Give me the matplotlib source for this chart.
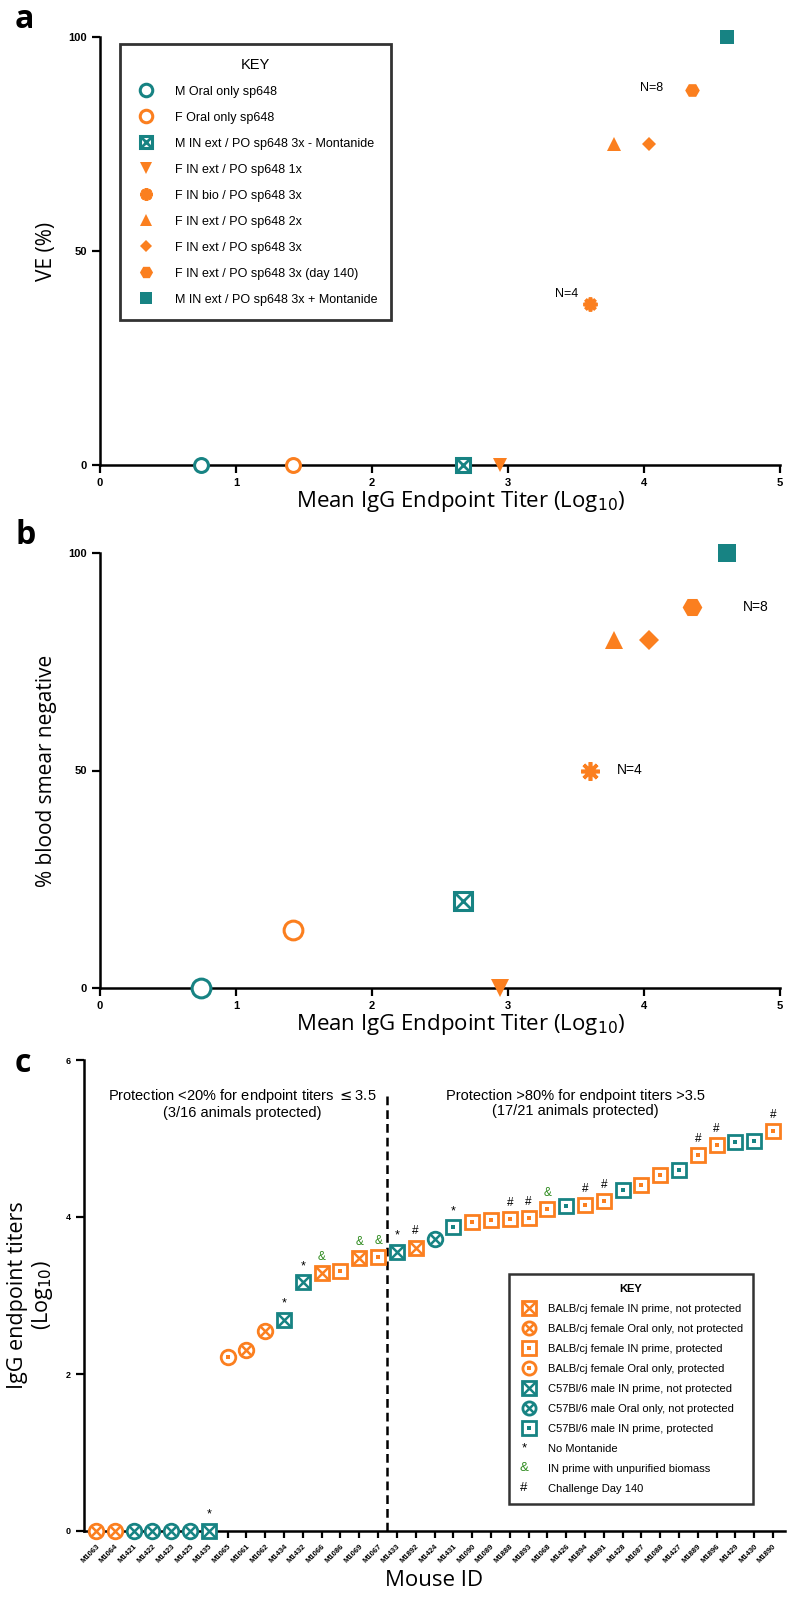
import matplotlib
matplotlib.use('Agg')
import matplotlib.pyplot as plt
from matplotlib.lines import Line2D
from matplotlib.legend_handler import HandlerBase
from matplotlib.text import Text

TEAL = '#178383'
ORANGE = '#fb7f1f'
GREEN = '#2e8b1e'

# ---- panels a / b : group means ----
groups = ['M Oral only sp648', 'F Oral only sp648',
          'M IN ext / PO sp648 3x - Montanide', 'F IN ext / PO sp648 1x',
          'F IN bio / PO sp648 3x', 'F IN ext / PO sp648 2x',
          'F IN ext / PO sp648 3x', 'F IN ext / PO sp648 3x (day 140)',
          'M IN ext / PO sp648 3x + Montanide']
mean_titer = [0.74, 1.42, 2.67, 2.94, 3.60, 3.78, 4.04, 4.35, 4.61]
ve_pct = [0, 0, 0, 0, 37.5, 75, 75, 87.5, 100]
smear_neg_pct = [0, 13.3, 20, 0, 50, 80, 80, 87.5, 100]

# ---- panel c : individual mice ----
mouse_ids = ['M1063', 'M1064', 'M1421', 'M1422', 'M1423', 'M1425', 'M1435',
             'M1065', 'M1061', 'M1062', 'M1434', 'M1432', 'M1066', 'M1086',
             'M1069', 'M1067', 'M1433', 'M1892', 'M1424', 'M1431', 'M1090',
             'M1089', 'M1888', 'M1893', 'M1068', 'M1426', 'M1894', 'M1891',
             'M1428', 'M1087', 'M1088', 'M1427', 'M1889', 'M1896', 'M1429',
             'M1430', 'M1890']
titers = [0, 0, 0, 0, 0, 0, 0,
          2.22, 2.31, 2.55, 2.69, 3.17, 3.29, 3.31,
          3.48, 3.49, 3.56, 3.61, 3.72, 3.87, 3.93,
          3.96, 3.97, 3.99, 4.10, 4.14, 4.15, 4.20,
          4.34, 4.41, 4.54, 4.60, 4.79, 4.92, 4.96,
          4.97, 5.09]
mouse_group = ['F Oral np', 'F Oral np', 'M Oral np', 'M Oral np', 'M Oral np', 'M Oral np', 'M IN np',
               'F Oral p', 'F Oral np', 'F Oral np', 'M IN np', 'M IN np', 'F IN np', 'F IN p',
               'F IN np', 'F IN p', 'M IN np', 'F IN np', 'M Oral np', 'M IN p', 'F IN p',
               'F IN p', 'F IN p', 'F IN p', 'F IN p', 'M IN p', 'F IN p', 'F IN p',
               'M IN p', 'F IN p', 'F IN p', 'M IN p', 'F IN p', 'F IN p', 'M IN p',
               'M IN p', 'F IN p']
notes = ['', '', '', '', '', '', '*',
         '', '', '', '*', '*', '&', '',
         '&', '&', '*', '#', '', '*', '',
         '', '#', '#', '&', '', '#', '#',
         '', '', '', '', '#', '#', '', '', '#']

c_key = [('F IN np', 'BALB/cj female IN prime, not protected'),
         ('F Oral np', 'BALB/cj female Oral only, not protected'),
         ('F IN p', 'BALB/cj female IN prime, protected'),
         ('F Oral p', 'BALB/cj female Oral only, protected'),
         ('M IN np', 'C57Bl/6 male IN prime, not protected'),
         ('M Oral np', 'C57Bl/6 male Oral only, not protected'),
         ('M IN p', 'C57Bl/6 male IN prime, protected')]
note_key = [('*', 'No Montanide'),
            ('&', 'IN prime with unpurified biomass'),
            ('#', 'Challenge Day 140')]

plt.rcParams['font.family'] = ['Liberation Sans', 'DejaVu Sans']
LABEL_FONT = ['Open Sans', 'DejaVu Sans']

W, H = 810, 1612
fig = plt.figure(figsize=(W / 100, H / 100), dpi=100)


def rect(x0, x1, ytop, ybot):
    return [x0 / W, 1 - ybot / H, (x1 - x0) / W, (ybot - ytop) / H]


def style_axes(ax):
    for s in ['top', 'right']:
        ax.spines[s].set_visible(False)
    for s in ['left', 'bottom']:
        ax.spines[s].set_linewidth(1.8)
    ax.tick_params(width=1.6, length=6)
    for lab in ax.get_xticklabels() + ax.get_yticklabels():
        lab.set_fontweight('bold')


def group_artists(i, ms):
    if i == 0:
        return [dict(marker='o', ms=ms, mfc='white', mec=TEAL, mew=2.2)]
    if i == 1:
        return [dict(marker='o', ms=ms, mfc='white', mec=ORANGE, mew=2.2)]
    if i == 2:
        return [dict(marker='s', ms=ms, mfc='white', mec=TEAL, mew=2.2),
                dict(marker='x', ms=ms * 0.95, mec=TEAL, mew=2.0)]
    if i == 3:
        return [dict(marker='v', ms=ms, mfc=ORANGE, mec=ORANGE, mew=0)]
    if i == 4:
        return [dict(marker=(8, 2, 0), ms=ms, mec=ORANGE, mew=2.6)]
    if i == 5:
        return [dict(marker='^', ms=ms, mfc=ORANGE, mec=ORANGE, mew=0)]
    if i == 6:
        return [dict(marker='D', ms=ms * 0.72, mfc=ORANGE, mec=ORANGE, mew=0)]
    if i == 7:
        return [dict(marker='H', ms=ms * 1.05, mfc=ORANGE, mec=ORANGE, mew=0)]
    return [dict(marker='s', ms=ms, mfc=TEAL, mec=TEAL, mew=0)]


def scatter_groups(ax, yvals, ms):
    for i in range(len(groups)):
        for kw in group_artists(i, ms):
            ax.plot([mean_titer[i]], [yvals[i]], ls='none', clip_on=False, zorder=5, **kw)


def setup_ab(ax, ylabel):
    ax.set_xlim(0, 5)
    ax.set_ylim(0, 100)
    ax.set_xticks([0, 1, 2, 3, 4, 5])
    ax.set_yticks([0, 50, 100])
    ax.tick_params(labelsize=8)
    ax.set_xlabel('Mean IgG Endpoint Titer (Log$_{10}$)', fontsize=16,
                  family=LABEL_FONT, labelpad=6)
    ax.xaxis.set_label_coords(0.53, -0.055)
    ax.set_ylabel(ylabel, fontsize=15, family=LABEL_FONT, labelpad=8)
    style_axes(ax)


class Symbol:
    def __init__(self, s, color):
        self.s = s
        self.color = color


class HandlerSymbol(HandlerBase):
    def create_artists(self, legend, orig_handle, xdescent, ydescent, width, height,
                       fontsize, trans):
        t = Text(0.25 * width - xdescent, 0.5 * height - ydescent, orig_handle.s,
                 color=orig_handle.color, ha='center', va='center', fontsize=9.5,
                 transform=trans)
        return [t]


# ---------------- panel a ----------------
ax_a = fig.add_axes(rect(100, 780, 37, 465))
scatter_groups(ax_a, ve_pct, 10)
setup_ab(ax_a, 'VE (%)')
ax_a.text(4.14, 88, 'N=8', fontsize=9, ha='right', va='center')
ax_a.text(3.52, 40, 'N=4', fontsize=9, ha='right', va='center')

handles = []
for i in range(len(groups)):
    hs = [Line2D([], [], ls='none', **kw) for kw in group_artists(i, 9)]
    handles.append(tuple(hs) if len(hs) > 1 else hs[0])
leg = ax_a.legend(handles, groups, loc='upper left', bbox_to_anchor=(120 / W, 1 - 44 / H),
                  bbox_transform=fig.transFigure, title='KEY', fontsize=9,
                  title_fontsize=10.5, frameon=True, fancybox=False, edgecolor='black',
                  borderpad=1.1, labelspacing=1.12, handletextpad=1.3,
                  borderaxespad=0)
leg.get_frame().set_linewidth(2)

# ---------------- panel b ----------------
ax_b = fig.add_axes(rect(100, 780, 553, 988))
scatter_groups(ax_b, smear_neg_pct, 13.5)
setup_ab(ax_b, '% blood smear negative')
ax_b.text(4.73, 87.5, 'N=8', fontsize=10, ha='left', va='center')
ax_b.text(3.8, 50, 'N=4', fontsize=10, ha='left', va='center')

# ---------------- panel c ----------------
ax_c = fig.add_axes(rect(84, 785, 1060, 1531))
x_idx = list(range(len(mouse_ids)))


def c_artists(g, ms):
    col = ORANGE if g.startswith('F') else TEAL
    shape = 'o' if 'Oral' in g else 's'
    base = dict(marker=shape, ms=ms, mfc='white', mec=col, mew=2.0)
    if g.endswith('np'):
        inner = dict(marker='x', ms=ms * (0.72 if shape == 'o' else 0.95), mec=col, mew=1.8)
    else:
        inner = dict(marker='s', ms=2.2, mfc=col, mec=col, mew=0)
    return [base, inner]


for i in x_idx:
    for kw in c_artists(mouse_group[i], 10.5):
        ax_c.plot([i], [titers[i]], ls='none', clip_on=False, zorder=5, **kw)
    if notes[i]:
        col = GREEN if notes[i] == '&' else 'black'
        ax_c.text(i, titers[i] + 0.13, notes[i], ha='center', va='bottom',
                  fontsize=8.5 if notes[i] != '*' else 9, color=col)

ax_c.axvline(15.5, ymin=0, ymax=5.6 / 6, color='black', ls=(0, (3.5, 2)), lw=1.8)
ax_c.set_xlim(-0.64, 36.64)
ax_c.set_ylim(0, 6)
ax_c.set_yticks([0, 2, 4, 6])
ax_c.set_xticks(x_idx)
ax_c.set_xticklabels(mouse_ids, rotation=45, ha='right', rotation_mode='anchor', fontsize=5.5)
ax_c.tick_params(axis='y', labelsize=6.5)
ax_c.set_xlabel('Mouse ID', fontsize=16, family=LABEL_FONT, labelpad=4)
ax_c.set_ylabel('IgG endpoint titers\n(Log$_{10}$)', fontsize=15.5, family=LABEL_FONT,
                labelpad=8, linespacing=1.1)
style_axes(ax_c)
ax_c.tick_params(axis='x', length=5)

ax_c.text(7.8, 5.45, 'Protection <20% for endpoint titers $\\leq$3.5\n(3/16 animals protected)',
          ha='center', va='center', fontsize=10.5, linespacing=1.1)
ax_c.text(25.5, 5.45, 'Protection >80% for endpoint titers >3.5\n(17/21 animals protected)',
          ha='center', va='center', fontsize=10.5, linespacing=1.1)

c_handles = []
c_labels = []
for g, lab in c_key:
    c_handles.append(tuple(Line2D([], [], ls='none', **kw) for kw in c_artists(g, 9.5)))
    c_labels.append(lab)
for sym, lab in note_key:
    c_handles.append(Symbol(sym, GREEN if sym == '&' else 'black'))
    c_labels.append(lab)
leg_c = ax_c.legend(c_handles, c_labels, loc='upper left', bbox_to_anchor=(509 / W, 1 - 1274 / H),
                    bbox_transform=fig.transFigure, title='KEY', fontsize=8,
                    title_fontproperties={'weight': 'bold', 'size': 8},
                    handler_map={Symbol: HandlerSymbol()},
                    frameon=True, fancybox=False, edgecolor='black', borderpad=0.9,
                    labelspacing=0.9, handletextpad=0.8, handlelength=1.8,
                    borderaxespad=0)
leg_c.get_frame().set_linewidth(1.8)

# panel letters
for lab, y in [('a', 20), ('b', 535), ('c', 1063)]:
    fig.text(15 / W, 1 - y / H, lab, fontsize=23, fontweight='bold', ha='left', va='center',
             family=LABEL_FONT)

fig.savefig('out.png', dpi=100)
